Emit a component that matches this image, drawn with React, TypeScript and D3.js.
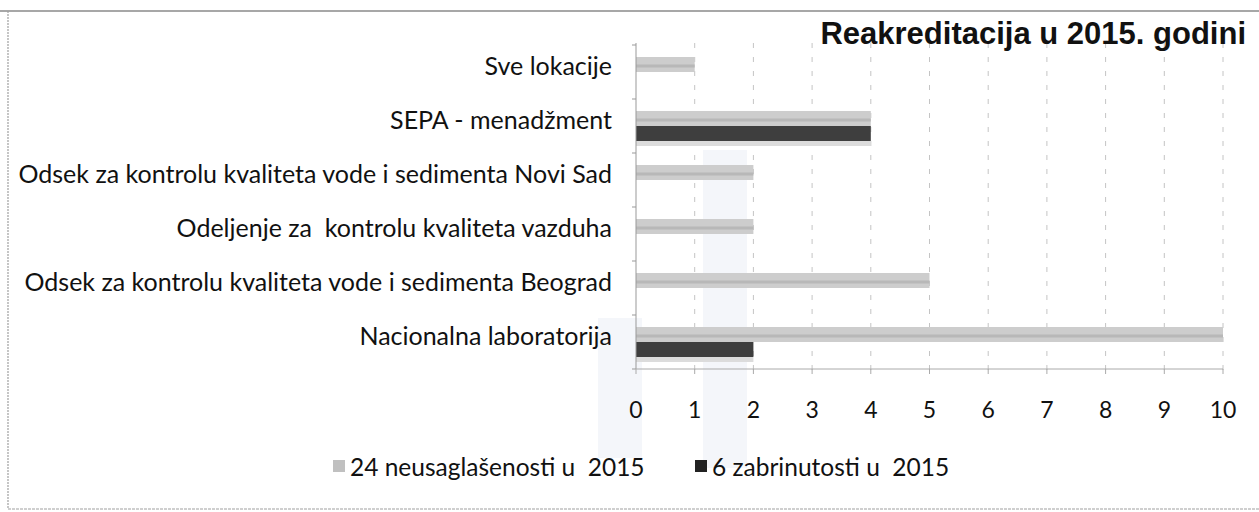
import * as d3 from "d3";

const categories = [
  "Sve lokacije",
  "SEPA - menadžment",
  "Odsek za kontrolu kvaliteta vode i sedimenta Novi Sad",
  "Odeljenje za  kontrolu kvaliteta vazduha",
  "Odsek za kontrolu kvaliteta vode i sedimenta Beograd",
  "Nacionalna laboratorija",
];
const neusaglasenosti = [1, 4, 2, 2, 5, 10];
const zabrinutosti = [0, 4, 0, 0, 0, 2];
const xTicks = [0, 1, 2, 3, 4, 5, 6, 7, 8, 9, 10];
const seriesNames = ["24 neusaglašenosti u  2015", "6 zabrinutosti u  2015"];
const title = "Reakreditacija u 2015. godini";

const W = 1259;
const H = 512;
const labelFont = "Lato, 'Open Sans', sans-serif";

export default function App() {
  const x = d3.scaleLinear().domain([0, 10]).range([636, 1223]);
  const y = d3.scaleBand().domain(categories).range([45, 369]);
  const barH = 15;
  const top = 43;
  const bottom = 369;

  return (
    <svg
      width={W}
      height={H}
      viewBox={`0 0 ${W} ${H}`}
      style={{ position: "absolute", left: 0, top: 0, background: "#fff" }}
    >
      {/* faint scan watermark */}
      <rect x={598} y={318} width={44} height={140} fill="#f4f6fa" />
      <rect x={703} y={150} width={44} height={318} fill="#f4f6fa" />

      {/* frame */}
      <line x1={0} y1={11} x2={W} y2={11} stroke="#8a8a8a" strokeWidth={1.5} />
      <line x1={8} y1={11} x2={8} y2={509} stroke="#a0a0a0" strokeWidth={1.2} strokeDasharray="2,1" />
      <line x1={8} y1={509} x2={W} y2={509} stroke="#a0a0a0" strokeWidth={1.2} strokeDasharray="3,1" />

      {/* grid */}
      {xTicks.slice(1).map((t) => (
        <line
          key={t}
          x1={x(t)}
          x2={x(t)}
          y1={top}
          y2={bottom + 6}
          stroke="#c4c4c4"
          strokeWidth={1}
          strokeDasharray="5,9"
        />
      ))}

      {/* bars */}
      {categories.map((c, i) => {
        const cy = (y(c) ?? 0) + y.bandwidth() / 2;
        const wl = x(neusaglasenosti[i]) - x(0);
        const wd = x(zabrinutosti[i]) - x(0);
        return (
          <g key={c}>
            {neusaglasenosti[i] > 0 && (
              <g>
                <rect x={x(0)} y={cy - barH} width={wl} height={barH} fill="#cdcdcd" />
                <rect x={x(0)} y={cy - barH / 2} width={wl} height={3} fill="#b8b8b8" />
              </g>
            )}
            {zabrinutosti[i] > 0 && (
              <g>
                <rect x={x(0)} y={cy} width={wd} height={barH} fill="#3e3e3e" />
                <rect x={x(0)} y={cy + barH} width={wd} height={5} fill="#dcdcdc" />
              </g>
            )}
            <text
              x={612}
              y={cy - 3}
              textAnchor="end"
              dominantBaseline="middle"
              fontFamily={labelFont}
              fontSize={25}
              fill="#111"
              style={{ whiteSpace: "pre" }}
            >
              {c}
            </text>
          </g>
        );
      })}

      {/* axes */}
      <line x1={x(0)} x2={x(0)} y1={top} y2={bottom} stroke="#999" strokeWidth={1} />
      {categories.map((c) => (
        <line
          key={c}
          x1={x(0) - 4}
          x2={x(0)}
          y1={y(c) ?? 0}
          y2={y(c) ?? 0}
          stroke="#999"
        />
      ))}
      <line x1={x(0) - 4} x2={x(0)} y1={bottom} y2={bottom} stroke="#999" />
      <line x1={x(0)} x2={x(10)} y1={bottom} y2={bottom} stroke="#aaa" strokeWidth={1} />
      {xTicks.map((t) => (
        <g key={t} transform={`translate(${x(t)},0)`}>
          <line y1={bottom} y2={bottom + 5} stroke="#aaa" />
          <text
            y={412}
            textAnchor="middle"
            dominantBaseline="middle"
            fontFamily={labelFont}
            fontSize={23}
            fill="#111"
          >
            {t}
          </text>
        </g>
      ))}

      {/* title */}
      <text
        x={1246}
        y={44}
        textAnchor="end"
        fontFamily="'Liberation Sans', Arial, sans-serif"
        fontWeight="bold"
        fontSize={31}
        fill="#111"
      >
        {title}
      </text>

      {/* legend */}
      <rect x={333} y={460} width={12} height={12} fill="#c0c0c0" />
      <text
        x={350}
        y={476}
        fontFamily={labelFont}
        fontSize={24.5}
        fill="#111"
        style={{ whiteSpace: "pre" }}
      >
        {seriesNames[0]}
      </text>
      <rect x={695} y={460} width={12} height={12} fill="#222" />
      <text
        x={712}
        y={476}
        fontFamily={labelFont}
        fontSize={24.5}
        fill="#111"
        style={{ whiteSpace: "pre" }}
      >
        {seriesNames[1]}
      </text>
    </svg>
  );
}
